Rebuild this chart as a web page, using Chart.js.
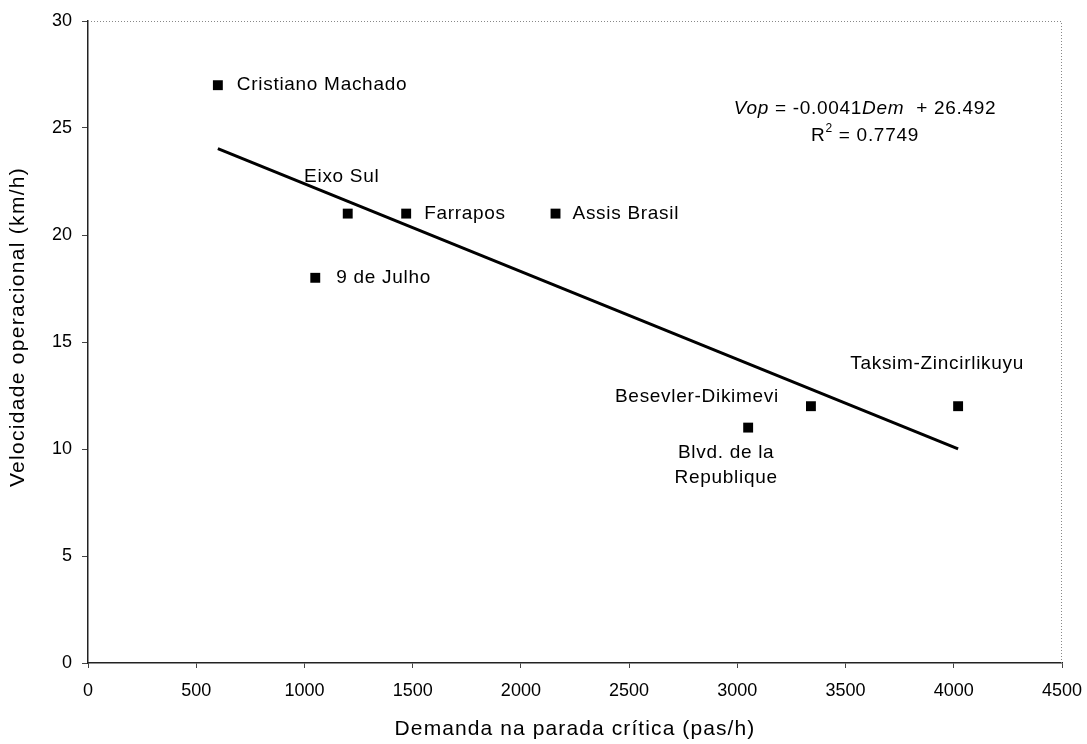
<!DOCTYPE html>
<html>
<head>
<meta charset="utf-8">
<script src="https://cdn.jsdelivr.net/npm/chart.js@4.4.1/dist/chart.umd.min.js"></script>
<style>
  html, body { margin: 0; padding: 0; background: #fff; }
  #wrap { width: 1087px; height: 744px; }
</style>
</head>
<body>
<div id="wrap"><canvas id="velChart" width="1087" height="744"></canvas></div>
<script>
// corridors: demand at the critical stop vs operating speed
const corridors = [
  "Cristiano Machado",
  "Eixo Sul",
  "Farrapos",
  "Assis Brasil",
  "9 de Julho",
  "Blvd. de la|Republique",
  "Besevler-Dikimevi",
  "Taksim-Zincirlikuyu",
];
const demand = [600, 1200, 1470, 2160, 1050, 3050, 3340, 4020];
const speed = [27, 21, 21, 21, 18, 11, 12, 12];

// linear fit shown on the chart
const slope = -0.0041;
const intercept = 26.492;
const r2 = 0.7749;
const fitRange = [600, 4020];

const xTicks = [0, 500, 1000, 1500, 2000, 2500, 3000, 3500, 4000, 4500];
const yTicks = [0, 5, 10, 15, 20, 25, 30];

const xTitle = "Demanda na parada crítica (pas/h)";
const yTitle = "Velocidade operacional (km/h)";

const FONT = "'Liberation Sans', Arial, sans-serif";
const INK = "#000";

// where each name goes relative to its marker: [dx, dy, align]
const labelPos = [
  [19, 0, "left"],
  [-6, -37, "center"],
  [18, 0, "left"],
  [17, 0, "left"],
  [21, 0, "left"],
  [-22, 25, "center"],
  [-32, -9, "right"],
  [-21, -42, "center"],
];

const points = demand.map((d, i) => ({ x: d, y: speed[i] }));
const fitLine = fitRange.map((d) => ({ x: d, y: slope * d + intercept }));

const pointNames = {
  id: "pointNames",
  afterDatasetsDraw(chart) {
    const ctx = chart.ctx;
    const meta = chart.getDatasetMeta(0);
    ctx.save();
    ctx.fillStyle = INK;
    ctx.letterSpacing = "0.7px";
    ctx.font = "19px " + FONT;
    ctx.textBaseline = "middle";
    meta.data.forEach((el, i) => {
      const [dx, dy, align] = labelPos[i];
      ctx.textAlign = align;
      corridors[i].split("|").forEach((line, k) => {
        ctx.fillText(line, el.x + dx, el.y + dy + k * 25);
      });
    });

    // regression equation
    const cx = 865;
    ctx.textAlign = "left";
    const parts = [
      ["italic ", "Vop"],
      ["", " = " + slope.toFixed(4)],
      ["italic ", "Dem"],
      ["", "  + " + intercept],
    ];
    let total = 0;
    parts.forEach((p) => {
      ctx.font = p[0] + "19px " + FONT;
      total += ctx.measureText(p[1]).width;
    });
    let x = cx - total / 2;
    parts.forEach((p) => {
      ctx.font = p[0] + "19px " + FONT;
      ctx.fillText(p[1], x, 109);
      x += ctx.measureText(p[1]).width;
    });
    ctx.font = "19px " + FONT;
    const rest = " = " + r2;
    const wR = ctx.measureText("R").width;
    ctx.font = "12px " + FONT;
    const w2 = ctx.measureText("2").width;
    ctx.font = "19px " + FONT;
    const wRest = ctx.measureText(rest).width;
    let rx = cx - (wR + w2 + wRest) / 2;
    ctx.fillText("R", rx, 136);
    ctx.font = "12px " + FONT;
    ctx.fillText("2", rx + wR, 129);
    ctx.font = "19px " + FONT;
    ctx.fillText(rest, rx + wR + w2, 136);
    ctx.restore();
  },
  afterDraw(chart) {
    const { left, right, top, bottom } = chart.chartArea;
    const ctx = chart.ctx;
    // dotted frame on top and right
    ctx.save();
    ctx.strokeStyle = "#888";
    ctx.lineWidth = 1;
    ctx.setLineDash([1, 2]);
    ctx.beginPath();
    ctx.moveTo(left, top + 0.5);
    ctx.lineTo(right - 0.5, top + 0.5);
    ctx.lineTo(right - 0.5, bottom);
    ctx.stroke();
    ctx.restore();

    // axis titles
    ctx.save();
    ctx.fillStyle = INK;
    ctx.font = "21px " + FONT;
    ctx.textAlign = "center";
    ctx.textBaseline = "middle";
    ctx.letterSpacing = "1.1px";
    ctx.fillText(xTitle, (left + right) / 2, 729);
    ctx.letterSpacing = "1.3px";
    ctx.translate(18, 327);
    ctx.rotate(-Math.PI / 2);
    ctx.fillText(yTitle, 0, 0);
    ctx.restore();
  },
};

new Chart(document.getElementById("velChart"), {
  type: "scatter",
  data: {
    datasets: [
      {
        label: "Corredores",
        data: points,
        pointStyle: "rect",
        pointRadius: 7,
        pointHoverRadius: 7,
        backgroundColor: INK,
        borderColor: INK,
        borderWidth: 0,
      },
      {
        type: "line",
        label: "Linear",
        data: fitLine,
        borderColor: INK,
        borderWidth: 3,
        pointRadius: 0,
        fill: false,
      },
    ],
  },
  options: {
    responsive: false,
    animation: false,
    events: [],
    layout: { padding: { top: 21, right: 25, left: 0, bottom: 0 } },
    plugins: {
      legend: { display: false },
      tooltip: { enabled: false },
    },
    scales: {
      x: {
        type: "linear",
        min: 0,
        max: 4500,
        afterBuildTicks: (scale) => {
          scale.ticks = xTicks.map((v) => ({ value: v }));
        },
        afterFit: (scale) => {
          scale.height = 81;
          // the last tick label may run into the right margin
          scale.paddingRight = 0;
          scale.paddingLeft = 0;
        },
        border: { color: "#222", width: 1.5 },
        grid: { drawOnChartArea: false, tickLength: 5, color: "#444" },
        ticks: {
          color: INK,
          padding: 12,
          font: { family: FONT, size: 18 },
          callback: (v) => String(v),
        },
      },
      y: {
        type: "linear",
        min: 0,
        max: 30,
        afterBuildTicks: (scale) => {
          scale.ticks = yTicks.map((v) => ({ value: v }));
        },
        afterFit: (scale) => {
          scale.width = 88;
          scale.paddingTop = 0;
          scale.paddingBottom = 0;
        },
        border: { color: "#222", width: 1.5 },
        grid: { drawOnChartArea: false, tickLength: 6, color: "#444" },
        ticks: {
          color: INK,
          padding: 10,
          font: { family: FONT, size: 18 },
          callback: (v) => String(v),
        },
      },
    },
  },
  plugins: [pointNames],
});
</script>
</body>
</html>
